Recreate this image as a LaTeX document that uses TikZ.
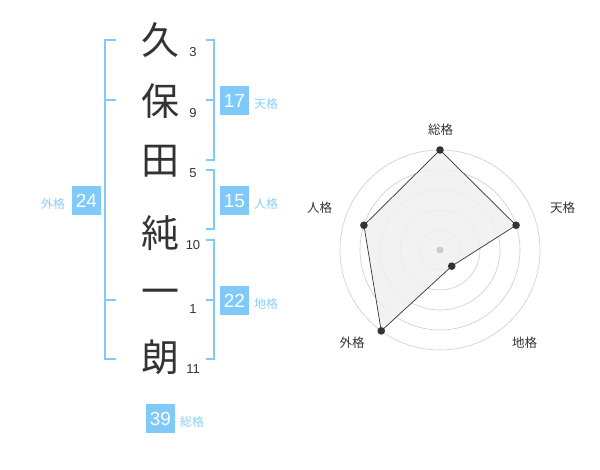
\documentclass[tikz,border=0pt]{standalone}
\usepackage{fontspec}
\setmainfont{Liberation Sans}
\newfontfamily\jp{Noto Sans CJK JP}
\definecolor{sky}{RGB}{128,202,250}
\definecolor{skytext}{RGB}{140,206,245}
\definecolor{ink}{RGB}{51,51,51}
\definecolor{ring}{RGB}{204,204,204}
\definecolor{area}{RGB}{240,240,240}
\begin{document}
\begin{tikzpicture}[x=1pt, y=-1pt,
    kanji/.style={text=ink, inner sep=0, font=\jp\fontsize{38}{38}\selectfont},
    strokes/.style={text=ink, inner sep=0, font=\fontsize{13}{13}\selectfont},
    bracket/.style={sky, line width=2pt},
    score/.style={fill=sky, text=white, minimum size=29pt, inner sep=0, font=\fontsize{19}{19}\selectfont},
    kaku/.style={text=skytext, inner sep=0, font=\jp\fontsize{12}{12}\selectfont},
    axislabel/.style={text=ink, inner sep=0, font=\jp\fontsize{12.5}{12.5}\selectfont}]
    \useasboundingbox (0,0) rectangle (600,470);

    % Name and strokes
    \foreach \y/\c/\s/\n in {40/久/3/1, 101/保/9/2, 161/田/5/3, 233/純/10/4, 297/一/1/5, 357/朗/11/6} {
        \node[kanji] (c\n) at (160,\y) {\c};
        \node[strokes] (s\n) at (193,\y+12) {\s};
    }

    % Brackets
    \draw[bracket] (116,40) -- (105,40) -- (105,359) -- (116,359);
    \draw[bracket] (105,100) -- (116,100);
    \draw[bracket] (105,300) -- (116,300);
    \draw[bracket] (206,40) -- (214,40) -- (214,160) -- (206,160);
    \draw[bracket] (206,100) -- (214,100);
    \draw[bracket] (206,170) -- (214,170) -- (214,229) -- (206,229);
    \draw[bracket] (206,240) -- (214,240) -- (214,359) -- (206,359);
    \draw[bracket] (206,300) -- (214,300);

    % Scores
    \node[score] (ten) at (234.5,100.5) {17};
    \node[kaku] at (266,104) {天格};
    \node[score] (jin) at (234.5,201) {15};
    \node[kaku] at (266,204) {人格};
    \node[score] (chi) at (234.5,300.5) {22};
    \node[kaku] at (266,304) {地格};
    \node[score] (gai) at (86.5,200.5) {24};
    \node[kaku] at (53,204) {外格};
    \node[score] (sou) at (160.5,418.5) {39};
    \node[kaku] at (192,422) {総格};

    % Radar
    \begin{scope}[shift={(440,250)}, x=1pt, y=1pt]
        \foreach \r in {20,40,...,100}
            \draw[ring, line width=0.6pt] (0,0) circle (\r);
        \foreach \a/\v/\n in {90/5/sou, 18/4/ten, -54/1/chi, 234/5/gai, 162/4/jin}
            \coordinate (p\n) at (\a:\v*20);
        \fill[area, fill opacity=0.85] (psou) -- (pten) -- (pchi) -- (pgai) -- (pjin) -- cycle;
        \draw[ink, line width=0.7pt] (psou) -- (pten) -- (pchi) -- (pgai) -- (pjin) -- cycle;
        \fill[ring] (0,0) circle (3.5);
        \foreach \n in {sou, ten, chi, gai, jin}
            \fill[ink] (p\n) circle (3.8);
    \end{scope}
    \node[axislabel] at (440.5,130) {総格};
    \node[axislabel] at (562.5,208) {天格};
    \node[axislabel] at (524.5,342.5) {地格};
    \node[axislabel] at (352,342.5) {外格};
    \node[axislabel] at (319.5,208) {人格};
\end{tikzpicture}
\end{document}
